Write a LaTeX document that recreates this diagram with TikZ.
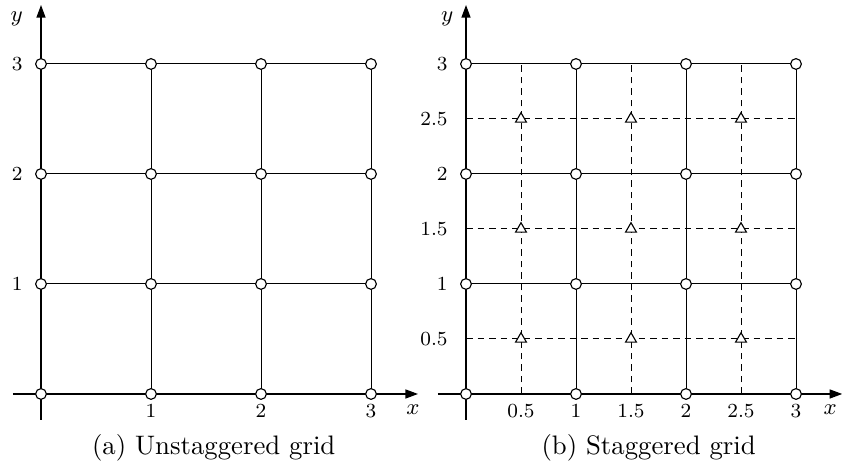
\documentclass[tikz,border=0pt]{standalone}
\usetikzlibrary{shapes.geometric,arrows.meta}
\begin{document}
\begin{tikzpicture}[x=0.4pt,y=0.4pt,
  gridline/.style={line width=0.4pt},
  stagline/.style={line width=0.4pt, dash pattern=on 2.6pt off 2pt},
  axis/.style={line width=0.45pt,-{Triangle[length=5pt,width=3.6pt]}},
  gpt/.style={circle,draw,fill=white,line width=0.45pt,inner sep=0pt,minimum size=4.3pt},
  tri/.style={regular polygon,regular polygon sides=3,draw,fill=white,line width=0.45pt,inner sep=0pt,minimum size=5pt},
  ticklab/.style={font=\fontsize{7.6}{9}\selectfont,inner sep=1pt},
  axlab/.style={font=\fontsize{9}{11}\selectfont,inner sep=0pt},
  caption/.style={font=\fontsize{10.7}{13}\selectfont,anchor=base,inner sep=0pt},
]
\useasboundingbox (0,0) rectangle (842,465);
% ---------- (a) unstaggered ----------
\begin{scope}[shift={(16.4pt,28.4pt)},x=44pt,y=44pt]
  \coordinate (ax0) at (-0.255,0);
  \coordinate (ax1) at (3.427,0);
  \coordinate (ay0) at (0,-0.236);
  \coordinate (ay1) at (0,3.536);
  \draw[axis] (ax0) -- (ax1);
  \draw[axis] (ay0) -- (ay1);
  \foreach \i in {0,...,3}{
    \coordinate (av\i0) at (\i,0);
    \coordinate (av\i3) at (\i,3);
    \coordinate (ah0\i) at (0,\i);
    \coordinate (ah3\i) at (3,\i);
    \draw[gridline] (av\i0) -- (av\i3);
    \draw[gridline] (ah0\i) -- (ah3\i);
  }
  \foreach \i in {0,...,3}{
    \foreach \j in {0,...,3}{
      \node[gpt] (a\i\j) at (\i,\j) {};
    }
  }
  \foreach \i in {1,2,3}{
    \node[ticklab,anchor=north] (axt\i) at (\i,-0.065) {$\i$};
    \node[ticklab,anchor=east] (ayt\i) at (-0.14,\i) {$\i$};
  }
  \node[axlab] (axl) at (3.38,-0.145) {$x$};
  \node[axlab] (ayl) at (-0.22,3.41) {$y$};
  \node[caption] (capa) at (1.57,-0.55) {(a) Unstaggered grid};
\end{scope}
% ---------- (b) staggered ----------
\begin{scope}[shift={(186.4pt,28.4pt)},x=44pt,y=44pt]
  \coordinate (bx0) at (-0.255,0);
  \coordinate (bx1) at (3.42,0);
  \coordinate (by0) at (0,-0.236);
  \coordinate (by1) at (0,3.536);
  \draw[axis] (bx0) -- (bx1);
  \draw[axis] (by0) -- (by1);
  \foreach \i in {0,...,3}{
    \coordinate (bv\i0) at (\i,0);
    \coordinate (bv\i3) at (\i,3);
    \coordinate (bh0\i) at (0,\i);
    \coordinate (bh3\i) at (3,\i);
    \draw[gridline] (bv\i0) -- (bv\i3);
    \draw[gridline] (bh0\i) -- (bh3\i);
  }
  \foreach \k/\n in {0.5/1,1.5/2,2.5/3}{
    \coordinate (sv\n0) at (\k,0);
    \coordinate (sv\n3) at (\k,3);
    \coordinate (sh0\n) at (0,\k);
    \coordinate (sh3\n) at (3,\k);
    \draw[stagline] (sv\n0) -- (sv\n3);
    \draw[stagline] (sh0\n) -- (sh3\n);
  }
  \foreach \i in {0,...,3}{
    \foreach \j in {0,...,3}{
      \node[gpt] (b\i\j) at (\i,\j) {};
    }
  }
  \foreach \k/\n in {0.5/1,1.5/2,2.5/3}{
    \foreach \l/\m in {0.5/1,1.5/2,2.5/3}{
      \node[tri] (t\n\m) at (\k,\l) {};
    }
  }
  \foreach \k/\n in {0.5/h1,1/w1,1.5/h2,2/w2,2.5/h3,3/w3}{
    \node[ticklab,anchor=north] (bxt\n) at (\k,-0.065) {$\k$};
    \node[ticklab,anchor=east] (byt\n) at (-0.14,\k) {$\k$};
  }
  \node[axlab] (bxl) at (3.31,-0.145) {$x$};
  \node[axlab] (byl) at (-0.17,3.41) {$y$};
  \node[caption] (capb) at (1.66,-0.55) {(b) Staggered grid};
\end{scope}
\end{tikzpicture}
\end{document}
